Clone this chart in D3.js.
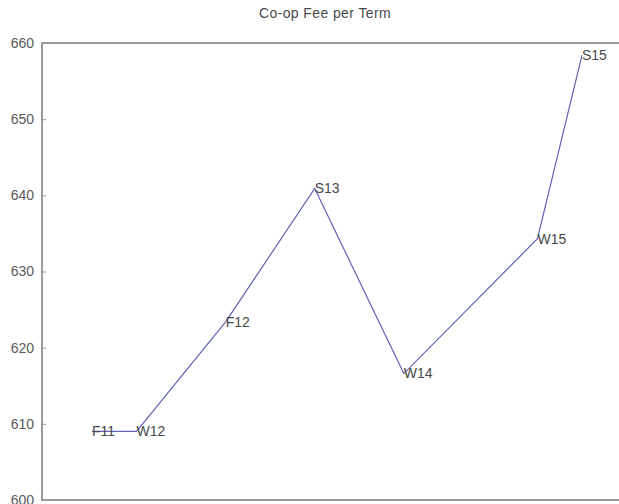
<!DOCTYPE html>
<html>
<head>
<meta charset="utf-8">
<script src="https://cdn.jsdelivr.net/npm/d3@7/dist/d3.min.js"></script>
<style>
  html, body { margin: 0; padding: 0; background: #fff; }
  svg { display: block; }
  text { font-family: "Liberation Sans", Arial, sans-serif; }
</style>
</head>
<body>
<svg id="chart" width="619" height="504"></svg>
<script>
// Data
const terms = ["F11", "W12", "F12", "S13", "W14", "W15", "S15"];
const termIndex = [0, 1, 3, 5, 7, 10, 11];
const fees = [609, 609, 623.4, 640.9, 616.6, 634.3, 658.4];
const yTicks = [600, 610, 620, 630, 640, 650, 660];
const chartTitle = "Co-op Fee per Term";

(function () {
  const svg = d3.select("#chart");
  const mLeft = 42, mTop = 43, mBottom = 500, mRight = 625;

  const x = d3.scaleLinear().domain([0, 11]).range([92, 582]);
  const y = d3.scaleLinear().domain([600, 660]).range([mBottom, mTop]);

  // plot box
  svg.append("rect")
    .attr("x", mLeft).attr("y", mTop)
    .attr("width", mRight - mLeft).attr("height", mBottom - mTop)
    .attr("fill", "#fff").attr("stroke", "#7a7a7a").attr("stroke-width", 1.5);

  // y axis (ticks inward)
  const yAxis = d3.axisLeft(y).tickValues(yTicks).tickSizeInner(-4).tickSizeOuter(0).tickPadding(8);
  const ga = svg.append("g").attr("transform", `translate(${mLeft},0)`).call(yAxis);
  ga.select(".domain").remove();
  ga.selectAll(".tick line").attr("stroke", "#999");
  ga.selectAll(".tick text")
    .attr("font-size", 14).attr("fill", "#5a5a5a")
    .attr("font-family", "Liberation Sans, Arial, sans-serif");

  // line
  const pts = terms.map((t, i) => ({ t, xi: termIndex[i], v: fees[i] }));
  svg.append("path")
    .datum(pts)
    .attr("fill", "none")
    .attr("stroke", "#6262b8")
    .attr("stroke-width", 1.2)
    .attr("d", d3.line().x(d => x(d.xi)).y(d => y(d.v)));

  // point labels
  svg.selectAll("text.lbl").data(pts).enter().append("text")
    .attr("class", "lbl")
    .attr("x", d => x(d.xi))
    .attr("y", d => y(d.v))
    .attr("dy", "0.35em")
    .attr("font-size", 14)
    .attr("fill", "#484848")
    .text(d => d.t);

  // title
  svg.append("text")
    .attr("x", 325).attr("y", 18)
    .attr("text-anchor", "middle")
    .attr("font-size", 14)
    .attr("letter-spacing", 0.4)
    .attr("fill", "#4a4a4a")
    .text(chartTitle);
})();
</script>
</body>
</html>
